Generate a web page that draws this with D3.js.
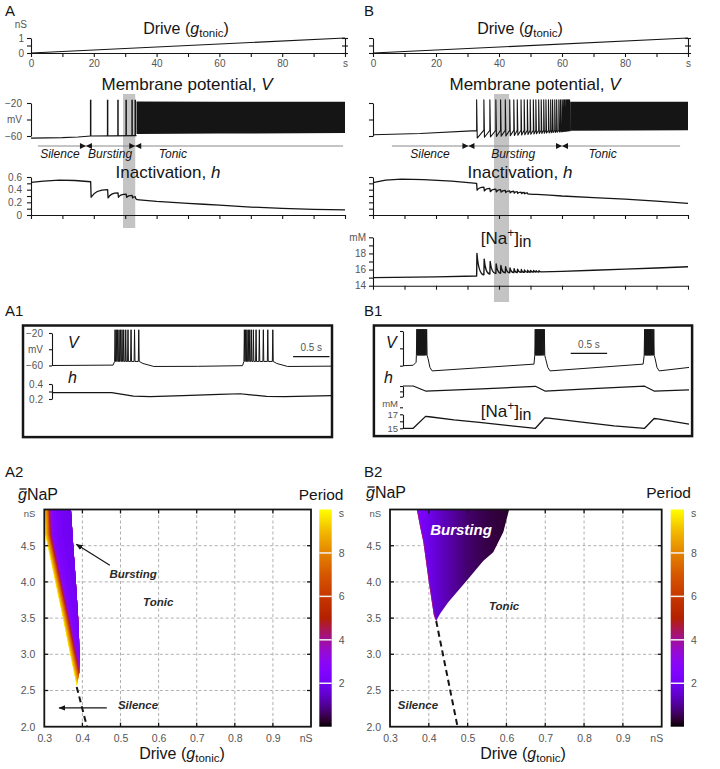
<!DOCTYPE html>
<html>
<head>
<meta charset="utf-8">
<script src="https://cdn.jsdelivr.net/npm/d3@7"></script>
<style>
  body { margin: 0; background: #fff; }
  svg { display: block; }
</style>
</head>
<body>
<svg id="chart" width="720" height="769"></svg>
<script>
// ---------- values ----------

// top row: slow ramp of the drive, time in s
const rampA = [[0, 0], [100, 1]];                 // g_tonic (nS) vs t
const timeTicks = [0, 10, 20, 30, 40, 50, 60, 70, 80, 90, 100];
const timeLabels = ["0", "", "20", "", "40", "", "60", "", "80", "", "s"];
const driveTicks = [0, 0.5, 1];
const driveLabels = ["0", "", "1"];
const vTicks = [-60, -40, -20];
const vLabels = ["\u221260", "mV", "\u221220"];
const hTicks = [0, 0.1, 0.2, 0.3, 0.4, 0.5, 0.6];
const hLabels = ["0", "", "0.2", "", "0.4", "", "0.6"];
const naTicks = [14, 15, 16, 17, 18, 19, 20];
const naLabels = ["14", "", "16", "", "18", "", "mM"];
const phaseNames = ["Silence", "Bursting", "Tonic"];

// A: bursts / spikes (t, s), resting potential, tonic envelope [t, top, bottom]
const spikeTA = [19.0, 24.4, 27.7, 30.3, 32.2, 33.2];
const vRestA = [[0, -62.5], [10, -62], [15, -61.2], [19, -60], [26, -59.8], [33.6, -59.5]];
const tonicA = [[33.6, -18.3, -57.5], [60, -18.4, -57], [100, -18.6, -56.5]];
const hLeadA = [[0, 0.515], [4, 0.535], [9, 0.55], [14, 0.545], [19, 0.525]];
const hPreA = [0.525, 0.40, 0.35, 0.33, 0.31, 0.29];
const hPostA = [0.28, 0.27, 0.28, 0.28, 0.27, 0.26];
const hTailA = [[34.5, 0.24], [40, 0.215], [45, 0.2], [50, 0.185], [55, 0.17], [60, 0.155], [70, 0.125], [80, 0.105], [90, 0.09], [100, 0.08]];
const phaseEdgeA = [17.5, 33.2];
const phaseMidA = [9.2, 25.2, 45.2];
const phaseSpanA = [2.2, 99.4];
const shadeA = [29.3, 33.2];

// B
const spikeTB = [32.9, 35.2, 37.1, 39.0, 40.5, 42.0, 43.4, 44.7, 45.8, 47.0, 48.0, 49.0, 49.9, 50.9, 51.7, 52.6, 53.4, 54.2, 54.9, 55.7,
  56.4, 57.0, 57.7, 58.3, 59.0, 59.5, 60.0, 60.4, 60.8, 61.2, 61.5, 61.8, 62.1, 62.4];
const troughB = [-62.5, -61.5, -61, -60.6, -60.2, -59.9, -59.6, -59.3, -59, -58.7, -58.4, -58.1, -57.8, -57.5, -57.2, -57, -56.8, -56.6, -56.4, -56.2,
  -56, -55.8, -55.6, -55.4, -55.2, -55, -54.8, -54.6, -54.4, -54.2, -54, -53.8, -53.6, -53.5];
const vRestB = [[0, -58.5], [15, -57], [32.9, -53.5]];
const vThrB = -53;
const tonicB = [[62.6, -18.4, -53.5], [100, -18.6, -53]];
const hLeadB = [[0, 0.51], [4, 0.55], [9, 0.565], [16, 0.56], [25, 0.535], [32.9, 0.50]];
const hPreB = [0.50, 0.44, 0.42, 0.41, 0.40, 0.39, 0.38, 0.375, 0.37, 0.36, 0.355, 0.35];
const hPostB = [0.39, 0.38, 0.37, 0.365, 0.36, 0.355, 0.35, 0.345, 0.34, 0.338, 0.335, 0.332];
const hTailB = [[52, 0.325], [56, 0.315], [60, 0.30], [70, 0.275], [80, 0.25], [90, 0.22], [100, 0.185]];
const naLeadB = [[0, 15.0], [20, 15.1], [32.9, 15.2]];
const naPreB = [15.2, 15.35, 15.45, 15.5, 15.55, 15.6, 15.6, 15.62, 15.63, 15.65, 15.65, 15.66, 15.67, 15.68, 15.69, 15.7];
const naPeakB = [18.0, 17.3, 17.0, 16.7, 16.5, 16.35, 16.2, 16.1, 16.05, 16.0, 15.95, 15.92, 15.9, 15.88, 15.86, 15.85];
const naTailB = [[53.5, 15.72], [60, 15.78], [70, 15.92], [80, 16.05], [90, 16.2], [100, 16.35]];
const phaseEdgeB = [30.3, 60.0];
const phaseMidB = [18.1, 44.5, 72.9];
const phaseSpanB = [6, 97.5];
const shadeB = [38.4, 43.2];

// A1: fast time scale (s)
const a1Lead = [[0, -60], [0.84, -59.5]];
const a1Burst1 = [0.867, 0.884, 0.902, 0.922, 0.942, 0.963, 0.986, 1.014, 1.045, 1.087, 1.135, 1.193];
const a1Mid = [[1.25, -57.5], [1.4, -61.2], [2.0, -61], [2.62, -60.2]];
const a1Burst2 = [2.645, 2.662, 2.680, 2.699, 2.719, 2.741, 2.769, 2.806, 2.851, 2.906, 2.967, 3.036];
const a1End = [[3.09, -57.5], [3.24, -61.2], [3.85, -60.8]];
const a1H = [[0, 0.285], [0.82, 0.285], [0.95, 0.265], [1.12, 0.238], [1.35, 0.232], [1.8, 0.245], [2.3, 0.262], [2.59, 0.27],
  [2.7, 0.258], [2.95, 0.234], [3.2, 0.231], [3.85, 0.245]];
const a1HTicks = [0.2, 0.3, 0.4];
const a1HLabels = ["0.2", "", "0.4"];
const a1ScaleBar = [3.315, 3.815];

// B1
const b1Lead = [[0, -60], [0.14, -59.5], [0.18, -56]];
const b1Burst1 = [0.190, 0.200, 0.210, 0.220, 0.230, 0.240, 0.250, 0.260, 0.270, 0.280, 0.290, 0.300, 0.312, 0.325];
const b1Mid1 = [[0.345, -52], [0.37, -62], [0.40, -66], [1.80, -58.2]];
const b1Burst2 = [1.817, 1.827, 1.837, 1.847, 1.857, 1.867, 1.877, 1.887, 1.897, 1.907, 1.918, 1.930, 1.942];
const b1Mid2 = [[1.96, -52], [1.99, -62], [2.02, -66], [3.30, -58.2]];
const b1Burst3 = [3.320, 3.330, 3.340, 3.350, 3.360, 3.370, 3.380, 3.390, 3.400, 3.411, 3.422, 3.434, 3.446];
const b1End = [[3.465, -52], [3.49, -62], [3.52, -66], [3.93, -62]];
const b1H = [[0, 0.45], [0.14, 0.45], [0.31, 0.403], [1.0, 0.42], [1.82, 0.447], [1.95, 0.403], [2.6, 0.425], [3.32, 0.448],
  [3.45, 0.403], [3.93, 0.413]];
const b1HTicks = [0.35, 0.40, 0.45];
const b1Na = [[0, 15.0], [0.14, 15.0], [0.31, 16.7], [0.36, 16.65], [0.7, 16.2], [1.05, 15.85], [1.46, 15.37], [1.82, 15.0],
  [1.95, 16.5], [2.0, 16.45], [2.4, 15.95], [2.9, 15.35], [3.32, 15.0], [3.45, 16.4], [3.5, 16.35], [3.93, 15.6]];
const b1NaTicks = [15, 16, 17, 18];
const b1NaLabels = ["15", "", "17", "mM"];
const b1ScaleBar = [2.305, 2.805];

// A2 / B2: two-parameter maps
const mapXTicks = [0.3, 0.4, 0.5, 0.6, 0.7, 0.8, 0.9, 1.0];
const mapXLabels = ["0.3", "0.4", "0.5", "0.6", "0.7", "0.8", "0.9", "nS"];
const mapYTicks = [2.0, 2.5, 3.0, 3.5, 4.0, 4.5, 5.0];
const mapYLabels = ["2.0", "2.5", "3.0", "3.5", "4.0", "4.5", "nS"];
const cbTicks = [2, 4, 6, 8, 10];
const cbLabels = ["2", "4", "6", "8", "s"];
// gnuplot-like period palette (s)
const palVal = [0, 0.25, 0.5, 0.75, 1, 1.5, 2, 2.5, 3, 3.5, 4, 4.5, 5, 6, 7, 8, 9, 10];
const palCol = ["#000000", "#280028", "#39004f", "#460074", "#510096", "#6301ce", "#7202f3", "#8004ff", "#8c07f3", "#970bce",
  "#a11096", "#ab174f", "#b42000", "#c63700", "#d55700", "#e48300", "#f2ba00", "#ffff00"];

// A2 bursting wedge: boundaries [drive, gNaP], period vs offset from left boundary
const a2Left = [[0.299, 5.0], [0.302, 4.65], [0.316, 4.3], [0.328, 4.0], [0.348, 3.5], [0.367, 3.0], [0.377, 2.75], [0.385, 2.55]];
const a2Right = [[0.370, 5.0], [0.376, 4.5], [0.383, 4.0], [0.389, 3.5], [0.393, 3.0], [0.392, 2.75], [0.385, 2.55]];
const a2BandOffset = [0, 0.003, 0.006, 0.009, 0.012, 0.014, 0.016, 0.019, 0.024, 0.032, 0.045, 0.06, 0.08];
const a2BandPeriod = [9.6, 8.8, 8.0, 7.0, 5.8, 4.6, 3.5, 2.8, 2.4, 2.2, 2.05, 1.95, 1.85];
const a2Dash = [[0.385, 2.55], [0.412, 2.0]];
const a2Notes = [{ t: "Bursting", d: 0.533, g: 4.05 }, { t: "Tonic", d: 0.599, g: 3.67 }, { t: "Silence", d: 0.546, g: 2.24 }];
const a2Arrows = [[[0.472, 4.23], [0.384, 4.52]], [[0.464, 2.26], [0.339, 2.26]]];

// B2 bursting region
const b2Left = [[0.369, 5.0], [0.378, 4.75], [0.386, 4.55], [0.400, 4.0], [0.413, 3.54], [0.419, 3.46]];
const b2Right = [[0.607, 5.0], [0.592, 4.69], [0.566, 4.41], [0.540, 4.29], [0.498, 4.02], [0.450, 3.72], [0.429, 3.56], [0.419, 3.46]];
const b2GradDrive = [0.369, 0.375, 0.39, 0.42, 0.46, 0.50, 0.55, 0.607];
const b2GradPeriod = [3.0, 2.4, 2.1, 1.6, 1.1, 0.7, 0.45, 0.3];
const b2Dash = [[0.419, 3.46], [0.474, 2.0]];
const b2Notes = [{ t: "Bursting", d: 0.483, g: 4.65, white: true }, { t: "Tonic", d: 0.594, g: 3.61 }, { t: "Silence", d: 0.372, g: 2.24 }];

// ---------- drawing ----------
const FONT = "'Liberation Sans', Arial, Helvetica, sans-serif";
const INK = "#151515", TICK = "#555";
const svg = d3.select("#chart").attr("font-family", FONT);
const defs = svg.append("defs");
const periodColor = d3.scaleLinear().domain(palVal).range(palCol).interpolate(d3.interpolateRgb);

defs.append("marker").attr("id", "arrow").attr("viewBox", "0 0 10 10").attr("refX", 9).attr("refY", 5)
  .attr("markerWidth", 7).attr("markerHeight", 7).attr("markerUnits", "userSpaceOnUse").attr("orient", "auto")
  .append("path").attr("d", "M0,1 L10,5 L0,9 Z").attr("fill", INK);

function label(g, x, y, s, size, o = {}) {
  return g.append("text").attr("x", x).attr("y", y).attr("font-size", size)
    .attr("text-anchor", o.anchor || "start")
    .attr("font-style", o.italic ? "italic" : null)
    .attr("font-weight", o.bold ? "bold" : null)
    .attr("fill", o.fill || INK).text(s);
}

function title(g, x, y, size, parts) {
  const t = g.append("text").attr("x", x).attr("y", y).attr("font-size", size)
    .attr("text-anchor", "middle").attr("fill", INK);
  parts.forEach(p => {
    const s = t.append("tspan").text(p.t);
    if (p.i) s.attr("font-style", "italic");
    if (p.fs) s.attr("font-size", p.fs);
    if (p.dy) s.attr("dy", p.dy);
  });
  return t;
}
const driveParts = [{ t: "Drive (" }, { t: "g", i: 1 }, { t: "tonic", fs: 11.5, dy: 3 }, { t: ")", dy: -3 }];

function styleAxis(sel, size = 10) {
  sel.attr("font-family", FONT).attr("font-size", size);
  sel.select(".domain").attr("stroke", INK).attr("stroke-width", 1.1);
  sel.selectAll(".tick line").attr("stroke", INK).attr("stroke-width", 1.1);
  sel.selectAll(".tick text").attr("fill", TICK);
  return sel;
}

const lineOf = (sx, sy) => d3.line().x(d => sx(d[0])).y(d => sy(d[1]));

// saw-tooth trace: lead points, events (jump pre -> post at t), relaxing towards next pre
function sawPath(sx, sy, lead, times, pre, post, tail, dt) {
  const p = d3.path();
  lead.forEach((d, i) => i ? p.lineTo(sx(d[0]), sy(d[1])) : p.moveTo(sx(d[0]), sy(d[1])));
  times.forEach((t, i) => {
    p.lineTo(sx(t), sy(pre[i]));
    p.lineTo(sx(t + dt), sy(post[i]));
    const last = i === times.length - 1;
    const nt = last ? tail[0][0] : times[i + 1];
    const nv = last ? tail[0][1] : pre[i + 1];
    const t0 = t + dt;
    p.quadraticCurveTo(sx(t0 + (nt - t0) * 0.25), sy(nv), sx(nt), sy(nv));
  });
  tail.forEach(d => p.lineTo(sx(d[0]), sy(d[1])));
  return p.toString();
}

// fast-scale voltage trace: point runs and spike trains
function burstPath(sx, sy, parts, low, peak) {
  const p = d3.path();
  let started = false;
  const to = (px, py) => { if (started) p.lineTo(px, py); else { p.moveTo(px, py); started = true; } };
  parts.forEach(part => {
    if (part.pts) part.pts.forEach(d => to(sx(d[0]), sy(d[1])));
    else part.spikes.forEach(t => { to(sx(t) - 0.45, sy(low)); to(sx(t), sy(peak)); to(sx(t) + 0.45, sy(low)); });
  });
  return p.toString();
}

const trace = (g, d, w = 1.2) => g.append("path").attr("d", d).attr("fill", "none")
  .attr("stroke", INK).attr("stroke-width", w).attr("stroke-linejoin", "round");

// ---------- top row ----------
const yDrive = d3.scaleLinear().domain([0, 1]).range([53, 38]);
const yV = d3.scaleLinear().domain([-60, -20]).range([136, 103]);
const yH = d3.scaleLinear().domain([0, 0.6]).range([215, 177]);
const yNa = d3.scaleLinear().domain([14, 20]).range([285.7, 237.3]);
const xA = d3.scaleLinear().domain([0, 100]).range([31, 345]);
const xB = d3.scaleLinear().domain([0, 100]).range([373, 688]);

function topFrame(x, o) {
  const g = svg.append("g");
  g.append("rect").attr("x", x(o.shade[0])).attr("y", 94)
    .attr("width", x(o.shade[1]) - x(o.shade[0])).attr("height", o.shadeBottom - 94).attr("fill", "#c4c4c4");

  // drive
  styleAxis(g.append("g").attr("transform", `translate(0,${yDrive(0)})`)
    .call(d3.axisBottom(x).tickValues(timeTicks).tickFormat((d, i) => timeLabels[i]).tickSize(4).tickPadding(3).tickSizeOuter(0)));
  styleAxis(g.append("g").attr("transform", `translate(${x(0)},0)`)
    .call(d3.axisLeft(yDrive).tickValues(driveTicks).tickFormat((d, i) => o.labels ? driveLabels[i] : "").tickSize(4).tickSizeOuter(0)));
  const rAx = styleAxis(g.append("g").attr("transform", `translate(${x(100)},0)`)
    .call(d3.axisLeft(yDrive).tickValues(driveTicks).tickFormat("").tickSizeOuter(0)));
  rAx.selectAll(".tick line").attr("x1", -3).attr("x2", 3);
  trace(g, lineOf(x, yDrive)(rampA));
  title(g, o.driveX, 34, 16, driveParts);

  // V axis
  styleAxis(g.append("g").attr("transform", `translate(${x(0)},0)`)
    .call(d3.axisLeft(yV).tickValues(vTicks).tickFormat((d, i) => o.labels ? vLabels[i] : "").tickSize(4).tickPadding(5).tickSizeOuter(0)));
  title(g, o.vX, 90, 17, [{ t: "Membrane potential, " }, { t: "V", i: 1 }]);

  // phases
  const py = 146;
  g.append("line").attr("x1", x(o.span[0])).attr("x2", x(o.span[1])).attr("y1", py).attr("y2", py)
    .attr("stroke", "#8a8a8a").attr("stroke-width", 1);
  o.edges.forEach(t => {
    const c = x(t);
    g.append("path").attr("d", `M${c - 6},${py - 3}L${c},${py}L${c - 6},${py + 3}ZM${c + 6},${py - 3}L${c},${py}L${c + 6},${py + 3}Z`)
      .attr("fill", INK);
  });
  phaseNames.forEach((n, i) => label(g, x(o.mids[i]), 158, n, 12, { anchor: "middle", italic: true }));

  // h
  styleAxis(g.append("g").attr("transform", `translate(${x(0)},0)`)
    .call(d3.axisLeft(yH).tickValues(hTicks).tickFormat((d, i) => o.labels ? hLabels[i] : "").tickSize(4).tickPadding(5).tickSizeOuter(0)));
  styleAxis(g.append("g").attr("transform", `translate(0,${yH(0)})`)
    .call(d3.axisBottom(x).tickValues(timeTicks).tickFormat("").tickSize(4).tickSizeOuter(0)));
  title(g, o.hX, 178, 17, [{ t: "Inactivation, " }, { t: "h", i: 1 }]);
  return g;
}

// panel A
const gA = topFrame(xA, { shade: shadeA, shadeBottom: 228, labels: true, driveX: 186, vX: 187, hX: 168,
  span: phaseSpanA, edges: phaseEdgeA, mids: phaseMidA });
label(gA, 27, 28, "nS", 10, { anchor: "end", fill: TICK });
trace(gA, lineOf(xA, yV)(vRestA));
gA.append("g").selectAll("line").data(spikeTA).join("line")
  .attr("x1", d => xA(d)).attr("x2", d => xA(d)).attr("y1", yV(-60)).attr("y2", yV(-16))
  .attr("stroke", INK).attr("stroke-width", 1.5);
gA.append("path").attr("d", d3.area().x(d => xA(d[0])).y0(d => yV(d[2])).y1(d => yV(d[1]))(tonicA)).attr("fill", INK);
trace(gA, sawPath(xA, yH, hLeadA, spikeTA, hPreA, hPostA, hTailA, 0.15), 1.3);

// panel B
const gB = topFrame(xB, { shade: shadeB, shadeBottom: 302, labels: false, driveX: 520, vX: 535, hX: 520,
  span: phaseSpanB, edges: phaseEdgeB, mids: phaseMidB });
{
  const p = d3.path();
  vRestB.forEach((d, i) => i ? p.lineTo(xB(d[0]), yV(d[1])) : p.moveTo(xB(d[0]), yV(d[1])));
  spikeTB.forEach((t, i) => {
    p.lineTo(xB(t), yV(vThrB));
    p.lineTo(xB(t), yV(-16));
    p.lineTo(xB(t) + 0.6, yV(troughB[i]));
  });
  p.lineTo(xB(tonicB[0][0]), yV(vThrB));
  trace(gB, p.toString(), 1.1);
}
gB.append("path").attr("d", d3.area().x(d => xB(d[0])).y0(d => yV(d[2])).y1(d => yV(d[1]))(tonicB)).attr("fill", INK);
trace(gB, sawPath(xB, yH, hLeadB, spikeTB.slice(0, hPreB.length), hPreB, hPostB, hTailB, 0.15), 1.3);

// [Na+]in
styleAxis(gB.append("g").attr("transform", `translate(${xB(0)},0)`)
  .call(d3.axisLeft(yNa).tickValues(naTicks).tickFormat((d, i) => naLabels[i]).tickSize(4).tickPadding(3).tickSizeOuter(0)));
styleAxis(gB.append("g").attr("transform", `translate(0,${yNa(14)})`)
  .call(d3.axisBottom(xB).tickValues(timeTicks).tickFormat("").tickSize(4).tickSizeOuter(0)));
trace(gB, sawPath(xB, yNa, naLeadB, spikeTB.slice(0, naPreB.length), naPreB, naPeakB, naTailB, 0.1), 1.4);
title(gB, 506, 244, 17, [{ t: "[Na" }, { t: "+", fs: 12, dy: -7 }, { t: "]", dy: 7 }, { t: "in", fs: 16, dy: 3 }]);

// panel letters
[["A", 5, 16], ["B", 364, 16], ["A1", 5, 316], ["B1", 364, 316], ["A2", 5, 477], ["B2", 364, 477]]
  .forEach(d => label(svg, d[1], d[2], d[0], 15));

// ---------- A1 ----------
{
  const g = svg.append("g");
  const x = d3.scaleLinear().domain([0, 3.85]).range([52, 332]);
  const yv = d3.scaleLinear().domain([-60, -20]).range([365.5, 333]);
  const yh = d3.scaleLinear().domain([0.2, 0.4]).range([399, 384]);
  styleAxis(g.append("g").attr("transform", "translate(52,0)")
    .call(d3.axisLeft(yv).tickValues(vTicks).tickFormat((d, i) => vLabels[i]).tickSize(3).tickPadding(6).tickSizeOuter(0)));
  styleAxis(g.append("g").attr("transform", "translate(52,0)")
    .call(d3.axisLeft(yh).tickValues(a1HTicks).tickFormat((d, i) => a1HLabels[i]).tickSize(3).tickPadding(6).tickSizeOuter(0)));
  trace(g, burstPath(x, yv, [{ pts: a1Lead }, { spikes: a1Burst1 }, { pts: a1Mid }, { spikes: a1Burst2 }, { pts: a1End }], -55, -16), 1);
  trace(g, lineOf(x, yh)(a1H), 1.2);
  label(g, 68, 348, "V", 16, { italic: true });
  label(g, 68, 383, "h", 16, { italic: true });
  g.append("line").attr("x1", x(a1ScaleBar[0])).attr("x2", x(a1ScaleBar[1])).attr("y1", 356.7).attr("y2", 356.7)
    .attr("stroke", INK).attr("stroke-width", 1.3);
  label(g, (x(a1ScaleBar[0]) + x(a1ScaleBar[1])) / 2, 351, "0.5 s", 10, { anchor: "middle", fill: TICK });
  g.append("rect").attr("x", 23).attr("y", 325.5).attr("width", 309).attr("height", 111.6)
    .attr("fill", "none").attr("stroke", INK).attr("stroke-width", 2.5);
}

// ---------- B1 ----------
{
  const g = svg.append("g");
  const x = d3.scaleLinear().domain([0, 3.93]).range([403, 689]);
  const yv = d3.scaleLinear().domain([-60, -20]).range([365.7, 331]);
  const yh = d3.scaleLinear().domain([0.35, 0.45]).range([396.7, 386]);
  const yn = d3.scaleLinear().domain([15, 17]).range([428.3, 414.3]);
  styleAxis(g.append("g").attr("transform", "translate(403,0)")
    .call(d3.axisLeft(yv).tickValues(vTicks).tickFormat("").tickSize(3).tickSizeOuter(0)));
  styleAxis(g.append("g").attr("transform", "translate(403,0)")
    .call(d3.axisLeft(yh).tickValues(b1HTicks).tickFormat("").tickSize(3).tickSizeOuter(0)));
  const na = styleAxis(g.append("g").attr("transform", "translate(403,0)")
    .call(d3.axisLeft(yn).tickValues(b1NaTicks).tickFormat((d, i) => b1NaLabels[i]).tickSize(3).tickPadding(2).tickSizeOuter(0)), 9.5);
  na.selectAll(".tick text").filter((d, i) => i === b1NaTicks.length - 1).attr("y", -3.5);
  trace(g, burstPath(x, yv, [{ pts: b1Lead }, { spikes: b1Burst1 }, { pts: b1Mid1 }, { spikes: b1Burst2 }, { pts: b1Mid2 },
    { spikes: b1Burst3 }, { pts: b1End }], -48, -18), 1);
  trace(g, lineOf(x, yh)(b1H), 1.2);
  trace(g, lineOf(x, yn)(b1Na), 1.3);
  label(g, 386, 348, "V", 16, { italic: true });
  label(g, 384, 383, "h", 16, { italic: true });
  title(g, 506, 417, 17, [{ t: "[Na" }, { t: "+", fs: 12, dy: -7 }, { t: "]", dy: 7 }, { t: "in", fs: 16, dy: 3 }]);
  g.append("line").attr("x1", x(b1ScaleBar[0])).attr("x2", x(b1ScaleBar[1])).attr("y1", 353.3).attr("y2", 353.3)
    .attr("stroke", INK).attr("stroke-width", 1.3);
  label(g, (x(b1ScaleBar[0]) + x(b1ScaleBar[1])) / 2, 347.5, "0.5 s", 10, { anchor: "middle", fill: TICK });
  g.append("rect").attr("x", 373.9).attr("y", 325.5).attr("width", 318.2).attr("height", 110.6)
    .attr("fill", "none").attr("stroke", INK).attr("stroke-width", 2.5);
}

// ---------- A2 / B2 ----------
function drawMap(c) {
  const g = svg.append("g");
  const x = d3.scaleLinear().domain([0.3, 1.0]).range([c.left, c.right]);
  const y = d3.scaleLinear().domain([2, 5]).range([c.bottom, c.top]);
  const line = lineOf(x, y);
  const frameId = c.id + "-frame", regId = c.id + "-reg";
  defs.append("clipPath").attr("id", frameId).append("rect")
    .attr("x", c.left).attr("y", c.top).attr("width", c.right - c.left).attr("height", c.bottom - c.top);
  defs.append("clipPath").attr("id", regId).append("path")
    .attr("d", line(c.leftEdge.concat(c.rightEdge.slice(0, -1).reverse())) + "Z");

  // grid
  const grid = g.append("g").attr("stroke", "#9c9c9c").attr("stroke-width", 0.8).attr("stroke-dasharray", "3,2.5");
  grid.selectAll(".gx").data(mapXTicks.slice(1, -1)).join("line")
    .attr("x1", d => x(d)).attr("x2", d => x(d)).attr("y1", c.top).attr("y2", c.bottom);
  grid.selectAll(".gy").data(mapYTicks.slice(1, -1)).join("line")
    .attr("x1", c.left).attr("x2", c.right).attr("y1", d => y(d)).attr("y2", d => y(d));

  // bursting region
  const rg = g.append("g").attr("clip-path", `url(#${frameId})`).append("g").attr("clip-path", `url(#${regId})`);
  c.fill(rg, x, y, line);

  // boundary silence / tonic
  g.append("path").attr("d", line(c.dash)).attr("fill", "none").attr("stroke", INK)
    .attr("stroke-width", 2).attr("stroke-dasharray", "6,4");

  // frame with inward ticks
  g.append("rect").attr("x", c.left).attr("y", c.top).attr("width", c.right - c.left).attr("height", c.bottom - c.top)
    .attr("fill", "none").attr("stroke", INK).attr("stroke-width", 1.8);
  const tk = g.append("g").attr("stroke", INK).attr("stroke-width", 1.3);
  mapXTicks.slice(1, -1).forEach(d => {
    tk.append("line").attr("x1", x(d)).attr("x2", x(d)).attr("y1", c.bottom).attr("y2", c.bottom - 4);
    tk.append("line").attr("x1", x(d)).attr("x2", x(d)).attr("y1", c.top).attr("y2", c.top + 4);
  });
  mapYTicks.slice(1, -1).forEach(d => {
    tk.append("line").attr("x1", c.left).attr("x2", c.left + 4).attr("y1", y(d)).attr("y2", y(d));
    tk.append("line").attr("x1", c.right).attr("x2", c.right - 4).attr("y1", y(d)).attr("y2", y(d));
  });

  // tick labels
  const ax = styleAxis(g.append("g").attr("transform", `translate(0,${c.bottom})`)
    .call(d3.axisBottom(x).tickValues(mapXTicks).tickFormat((d, i) => mapXLabels[i]).tickSize(0).tickPadding(8)), 10.5);
  ax.select(".domain").remove();
  ax.selectAll(".tick text").filter((d, i) => i === mapXTicks.length - 1).attr("text-anchor", "end").attr("x", 1);
  const ay = styleAxis(g.append("g").attr("transform", `translate(${c.left},0)`)
    .call(d3.axisLeft(y).tickValues(mapYTicks).tickFormat((d, i) => mapYLabels[i]).tickSize(0).tickPadding(9)), 10.5);
  ay.select(".domain").remove();
  ay.selectAll(".tick text").filter((d, i) => i === mapYTicks.length - 1).attr("y", 4).attr("font-size", 9.5);

  // notes
  c.notes.forEach(n => label(g, x(n.d), y(n.g), n.t, n.white ? 15 : 11.5,
    { anchor: "middle", italic: true, bold: true, fill: n.white ? "#ffffff" : "#2a2a2a" }));
  (c.arrows || []).forEach(a => g.append("path").attr("d", line(a)).attr("stroke", INK).attr("stroke-width", 1.2)
    .attr("fill", "none").attr("marker-end", "url(#arrow)"));

  // axis titles
  title(g, c.titleX, 759, 16, driveParts);
  const gl = label(g, c.gX, c.gY, "", 16);
  gl.append("tspan").attr("font-style", "italic").text("g");
  gl.append("tspan").text("NaP");
  g.append("line").attr("x1", c.gX + 1.5).attr("x2", c.gX + 8.5).attr("y1", c.gY - 11).attr("y2", c.gY - 11)
    .attr("stroke", INK).attr("stroke-width", 1.3);
  label(g, c.periodX, c.gY, "Period", 15.5, { anchor: "end" });

  // colour bar
  const cb = d3.scaleLinear().domain([0, 10]).range([c.bottom, c.top]);
  const gid = c.id + "-cb";
  const lg = defs.append("linearGradient").attr("id", gid).attr("gradientUnits", "userSpaceOnUse")
    .attr("x1", 0).attr("x2", 0).attr("y1", cb(0)).attr("y2", cb(10));
  palVal.forEach((v, i) => lg.append("stop").attr("offset", v / 10).attr("stop-color", palCol[i]));
  g.append("rect").attr("x", c.cbX).attr("y", cb(10)).attr("width", c.cbW).attr("height", cb(0) - cb(10))
    .attr("fill", `url(#${gid})`);
  cbTicks.slice(0, -1).forEach(v => g.append("line").attr("x1", c.cbX).attr("x2", c.cbX + c.cbW)
    .attr("y1", cb(v)).attr("y2", cb(v)).attr("stroke", "#f2f2f2").attr("stroke-width", 1.5));
  cbTicks.forEach((v, i) => label(g, c.cbX + c.cbW + 7, cb(v) + (i === cbTicks.length - 1 ? 7.5 : 3.8), cbLabels[i], 10.5, { fill: TICK }));
}

drawMap({
  id: "a2", left: 44.3, right: 311, top: 509.5, bottom: 726.7, cbX: 319.3, cbW: 12.4, periodX: 343.5,
  gX: 18, gY: 500, titleX: 182, leftEdge: a2Left, rightEdge: a2Right, dash: a2Dash, notes: a2Notes, arrows: a2Arrows,
  fill: (rg, x, y, line) => {
    a2BandOffset.forEach((o, k) => {
      const pts = a2Left.map(d => [d[0] + o, d[1]]).concat(a2Left.slice().reverse().map(d => [d[0] + 0.3, d[1]]));
      rg.append("path").attr("d", line(pts) + "Z").attr("fill", periodColor(a2BandPeriod[k]));
    });
  }
});

drawMap({
  id: "b2", left: 390, right: 661.7, top: 509.5, bottom: 726.7, cbX: 670.7, cbW: 13.3, periodX: 691,
  gX: 366, gY: 498, titleX: 523, leftEdge: b2Left, rightEdge: b2Right, dash: b2Dash, notes: b2Notes,
  fill: (rg, x, y, line) => {
    const first = b2GradDrive[0], last = b2GradDrive[b2GradDrive.length - 1];
    const lg = defs.append("linearGradient").attr("id", "b2-fill").attr("gradientUnits", "userSpaceOnUse")
      .attr("x1", x(first)).attr("x2", x(last)).attr("y1", 0).attr("y2", 0);
    b2GradDrive.forEach((d, i) => lg.append("stop").attr("offset", (d - first) / (last - first))
      .attr("stop-color", periodColor(b2GradPeriod[i])));
    rg.append("rect").attr("x", x(0.3)).attr("y", y(5)).attr("width", x(0.7) - x(0.3)).attr("height", y(2) - y(5))
      .attr("fill", "url(#b2-fill)");
    rg.append("path").attr("d", line(b2Left)).attr("fill", "none").attr("stroke", periodColor(4.2)).attr("stroke-width", 1.6);
  }
});
</script>
</body>
</html>
